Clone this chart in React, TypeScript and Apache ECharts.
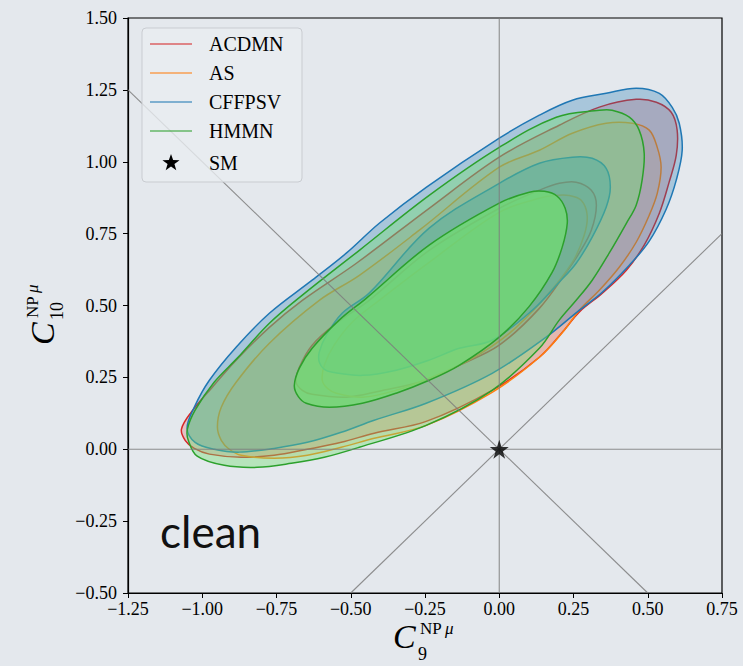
import { useEffect, useRef } from "react";
import * as echarts from "echarts";

type Pt = [number, number];

// Axis ranges / ticks
const xMin = -1.25;
const xMax = 0.75;
const yMin = -0.5;
const yMax = 1.5;
const tickStep = 0.25;

// Models (legend order)
const modelNames = ["ACDMN", "AS", "CFFPSV", "HMMN"];
const lineColors = ["#d62728", "#ff7f0e", "#1f77b4", "#2ca02c"];
const fillOuter = ["rgba(214,39,40,0.2)", "rgba(255,127,14,0.12)", "rgba(31,119,180,0.3)", "rgba(112,222,112,0.4)"];
const fillInner = ["rgba(214,39,40,0.1)", "rgba(255,127,14,0.08)", "rgba(40,140,200,0.4)", "rgba(112,222,112,0.72)"];

// Contours (C9, C10)
const acdmnOuter: Pt[] = [
  [-1.07, 0.07], [-1.057, 0.03], [-1.027, 0.003], [-0.976, -0.017], [-0.869, -0.028], [-0.758, -0.021],
  [-0.646, 0.0], [-0.532, 0.024], [-0.421, 0.056], [-0.246, 0.097], [-0.024, 0.205], [0.135, 0.32],
  [0.219, 0.415], [0.269, 0.477], [0.347, 0.543], [0.428, 0.623], [0.488, 0.71], [0.539, 0.821],
  [0.572, 0.929], [0.596, 1.023], [0.599, 1.11], [0.579, 1.172], [0.529, 1.207], [0.461, 1.217],
  [0.337, 1.19], [0.202, 1.127], [0.0, 1.016], [-0.236, 0.838], [-0.481, 0.647], [-0.663, 0.518],
  [-0.774, 0.424], [-0.886, 0.31], [-0.966, 0.216], [-1.037, 0.129],
];
const acdmnInner: Pt[] = [
  [-0.684, 0.233], [-0.663, 0.205], [-0.63, 0.191], [-0.515, 0.181], [-0.404, 0.202], [-0.246, 0.24],
  [-0.135, 0.292], [0.0, 0.362], [0.135, 0.49], [0.226, 0.616], [0.269, 0.682], [0.31, 0.762],
  [0.327, 0.849], [0.31, 0.901], [0.259, 0.929], [0.202, 0.925], [0.135, 0.901], [0.0, 0.838],
  [-0.236, 0.692], [-0.438, 0.518], [-0.549, 0.438], [-0.63, 0.362], [-0.673, 0.285],
];
const asOuter: Pt[] = [
  [-0.949, 0.077], [-0.936, 0.031], [-0.909, 0.0], [-0.869, -0.021], [-0.758, -0.031], [-0.646, -0.021],
  [-0.532, 0.007], [-0.421, 0.038], [-0.246, 0.083], [-0.024, 0.198], [0.135, 0.32], [0.219, 0.414],
  [0.269, 0.483], [0.337, 0.553], [0.404, 0.633], [0.461, 0.72], [0.505, 0.814], [0.532, 0.89],
  [0.545, 0.981], [0.532, 1.05], [0.505, 1.11], [0.448, 1.134], [0.36, 1.134], [0.246, 1.099],
  [0.135, 1.04], [0.0, 0.981], [-0.269, 0.762], [-0.471, 0.605], [-0.606, 0.518], [-0.774, 0.369],
  [-0.886, 0.233], [-0.936, 0.146],
];
const asInner: Pt[] = [
  [-0.596, 0.24], [-0.579, 0.212], [-0.549, 0.195], [-0.461, 0.181], [-0.347, 0.205], [-0.236, 0.247],
  [-0.101, 0.31], [0.034, 0.403], [0.152, 0.525], [0.246, 0.65], [0.286, 0.744], [0.296, 0.814],
  [0.276, 0.866], [0.236, 0.883], [0.185, 0.883], [0.135, 0.873], [0.0, 0.824], [-0.236, 0.65],
  [-0.404, 0.518], [-0.495, 0.442], [-0.556, 0.362], [-0.589, 0.292],
];
const cffpsvOuter: Pt[] = [
  [-1.051, 0.073], [-1.024, 0.024], [-0.96, 0.0], [-0.875, -0.01], [-0.758, 0.003], [-0.646, 0.024],
  [-0.532, 0.059], [-0.421, 0.101], [-0.246, 0.16], [-0.024, 0.264], [0.158, 0.39], [0.269, 0.483],
  [0.347, 0.546], [0.438, 0.64], [0.505, 0.724], [0.562, 0.835], [0.596, 0.936], [0.616, 1.04],
  [0.606, 1.134], [0.582, 1.19], [0.539, 1.238], [0.461, 1.256], [0.36, 1.238], [0.246, 1.214],
  [0.135, 1.162], [0.0, 1.082], [-0.246, 0.911], [-0.404, 0.786], [-0.515, 0.682], [-0.63, 0.588],
  [-0.774, 0.473], [-0.886, 0.355], [-0.976, 0.24], [-1.027, 0.146],
];
const cffpsvInner: Pt[] = [
  [-0.606, 0.303], [-0.589, 0.278], [-0.562, 0.268], [-0.461, 0.257], [-0.347, 0.275], [-0.236, 0.31],
  [-0.135, 0.351], [-0.024, 0.379], [0.111, 0.483], [0.202, 0.581], [0.259, 0.647], [0.313, 0.738],
  [0.36, 0.842], [0.374, 0.911], [0.36, 0.977], [0.313, 1.012], [0.246, 1.016], [0.135, 0.995],
  [0.0, 0.925], [-0.236, 0.769], [-0.438, 0.543], [-0.529, 0.473], [-0.582, 0.397], [-0.606, 0.338],
];
const hmmnOuter: Pt[] = [
  [-1.05, 0.07], [-1.047, 0.031], [-1.017, -0.024], [-0.926, -0.056], [-0.815, -0.063], [-0.7, -0.049],
  [-0.589, -0.028], [-0.471, 0.007], [-0.246, 0.083], [-0.024, 0.205], [0.135, 0.351], [0.202, 0.449],
  [0.259, 0.518], [0.313, 0.588], [0.37, 0.682], [0.428, 0.786], [0.461, 0.849], [0.481, 0.936],
  [0.488, 1.03], [0.471, 1.11], [0.438, 1.155], [0.38, 1.179], [0.337, 1.179], [0.192, 1.155],
  [0.0, 1.05], [-0.236, 0.883], [-0.471, 0.692], [-0.663, 0.536], [-0.774, 0.438], [-0.882, 0.317],
  [-0.96, 0.233], [-1.024, 0.136],
];
const hmmnInner: Pt[] = [
  [-0.69, 0.222], [-0.677, 0.184], [-0.65, 0.16], [-0.572, 0.146], [-0.461, 0.16], [-0.347, 0.195],
  [-0.236, 0.24], [-0.135, 0.292], [0.0, 0.39], [0.101, 0.497], [0.178, 0.615], [0.212, 0.703],
  [0.229, 0.786], [0.222, 0.838], [0.195, 0.88], [0.152, 0.897], [0.101, 0.894], [0.0, 0.856],
  [-0.236, 0.71], [-0.448, 0.525], [-0.539, 0.449], [-0.63, 0.351], [-0.673, 0.282],
];
const modelContours: Pt[][][] = [
  [acdmnOuter, acdmnInner],
  [asOuter, asInner],
  [cffpsvOuter, cffpsvInner],
  [hmmnOuter, hmmnInner],
];

// SM point and reference lines
const smPoint: Pt = [0, 0];
const refLines: Pt[][] = [
  [[-1.25, 1.25], [0.5, -0.5]],
  [[-0.5, -0.5], [0.75, 0.75]],
  [[0, -0.5], [0, 1.5]],
  [[-1.25, 0], [0.75, 0]],
];

const SERIF = '"Liberation Serif", "Times New Roman", serif';
const BG = "#e4e8ed";
const STAR_PATH =
  "path://M50,0 L61.8,35.4 L100,35.4 L69.1,57.3 L80.9,92.7 L50,70.8 L19.1,92.7 L30.9,57.3 L0,35.4 L38.2,35.4 Z";

const fmt = (v: number) => (v < 0 ? "\u2212" : "") + Math.abs(v).toFixed(2);

function starPoints(cx: number, cy: number, R: number, r: number): number[][] {
  const pts: number[][] = [];
  for (let i = 0; i < 10; i++) {
    const a = -Math.PI / 2 + (i * Math.PI) / 5;
    const rad = i % 2 === 0 ? R : r;
    pts.push([cx + rad * Math.cos(a), cy + rad * Math.sin(a)]);
  }
  return pts;
}

export default function App() {
  const ref = useRef<HTMLDivElement>(null);

  useEffect(() => {
    if (!ref.current) return;
    const chart = echarts.init(ref.current, undefined, { renderer: "svg" });

    const contourSeries = modelNames.map((name, m) => ({
      type: "custom",
      name,
      coordinateSystem: "cartesian2d",
      dimensions: ["x", "y", "k"],
      encode: { x: 0, y: 1 },
      data: modelContours[m].map((c, k) => [c[0][0], c[0][1], k]),
      z: 2,
      silent: true,
      renderItem: (_params: any, api: any) => {
        const k = api.value(2);
        const pts = modelContours[m][k].map((p) => api.coord(p));
        return {
          type: "polygon",
          shape: { points: pts, smooth: 0.35 },
          style: {
            fill: k === 0 ? fillOuter[m] : fillInner[m],
            stroke: lineColors[m],
            lineWidth: 1.5,
          },
        };
      },
    }));

    const refSeries = refLines.map((seg) => ({
      type: "line",
      data: seg,
      symbol: "none",
      silent: true,
      z: 3,
      lineStyle: { color: "rgba(125,125,125,0.85)", width: 1.1 },
    }));

    const legendRows = [44, 73, 102, 131];
    const legendGraphics: any[] = [
      {
        type: "rect",
        shape: { x: 142, y: 28, width: 160, height: 154, r: 4 },
        style: { fill: "rgba(232,236,240,0.8)", stroke: "#c9ccd1", lineWidth: 1 },
        z: 10,
      },
    ];
    modelNames.forEach((name, i) => {
      legendGraphics.push({
        type: "line",
        shape: { x1: 150, y1: legendRows[i], x2: 192, y2: legendRows[i] },
        style: { stroke: lineColors[i], lineWidth: 1.4, opacity: 0.7 },
        z: 11,
      });
      legendGraphics.push({
        type: "text",
        x: 209,
        y: legendRows[i],
        style: { text: name, font: `20px ${SERIF}`, fill: "#000", verticalAlign: "middle", align: "left" },
        z: 11,
      });
    });
    legendGraphics.push({
      type: "polygon",
      shape: { points: starPoints(171, 163, 9, 3.6) },
      style: { fill: "#000" },
      z: 11,
    });
    legendGraphics.push({
      type: "text",
      x: 209,
      y: 163,
      style: { text: "SM", font: `20px ${SERIF}`, fill: "#000", verticalAlign: "middle", align: "left" },
      z: 11,
    });

    const axisNameGraphics: any[] = [
      {
        type: "group",
        x: 393,
        y: 636,
        children: [
          { type: "text", x: 0, y: 0, style: { text: "C", font: `italic 34px ${SERIF}`, fill: "#000", verticalAlign: "middle" } },
          { type: "text", x: 27, y: -8, style: { text: "NP", font: `17px ${SERIF}`, fill: "#000", verticalAlign: "middle" } },
          { type: "text", x: 52, y: -8, style: { text: "\u03bc", font: `italic 17px ${SERIF}`, fill: "#000", verticalAlign: "middle" } },
          { type: "text", x: 25, y: 18, style: { text: "9", font: `18px ${SERIF}`, fill: "#000", verticalAlign: "middle" } },
        ],
      },
      {
        type: "group",
        x: 42,
        y: 345,
        rotation: Math.PI / 2,
        children: [
          { type: "text", x: 0, y: 0, style: { text: "C", font: `italic 34px ${SERIF}`, fill: "#000", verticalAlign: "middle" } },
          { type: "text", x: 27, y: -10, style: { text: "NP", font: `17px ${SERIF}`, fill: "#000", verticalAlign: "middle" } },
          { type: "text", x: 52, y: -10, style: { text: "\u03bc", font: `italic 17px ${SERIF}`, fill: "#000", verticalAlign: "middle" } },
          { type: "text", x: 25, y: 15, style: { text: "10", font: `18px ${SERIF}`, fill: "#000", verticalAlign: "middle" } },
        ],
      },
      {
        type: "text",
        x: 160,
        y: 531,
        style: { text: "clean", font: `44px Lato, "Open Sans", sans-serif`, fill: "#111", verticalAlign: "middle" },
        z: 12,
      },
    ];

    chart.setOption({
      animation: false,
      backgroundColor: BG,
      grid: {
        left: 128,
        right: 21,
        top: 18,
        bottom: 73,
        show: true,
        borderColor: "#000",
        borderWidth: 1.2,
        backgroundColor: "transparent",
      },
      xAxis: {
        type: "value",
        min: xMin,
        max: xMax,
        interval: tickStep,
        axisLine: { show: true, onZero: false, lineStyle: { color: "#000", width: 1.2 } },
        axisTick: { show: true, length: 5, lineStyle: { color: "#000", width: 1 } },
        axisLabel: { formatter: fmt, fontFamily: SERIF, fontSize: 18, lineHeight: 18, color: "#000", margin: 7 },
        splitLine: { show: false },
      },
      yAxis: {
        type: "value",
        min: yMin,
        max: yMax,
        interval: tickStep,
        axisLine: { show: true, onZero: false, lineStyle: { color: "#000", width: 1.2 } },
        axisTick: { show: true, length: 5, lineStyle: { color: "#000", width: 1 } },
        axisLabel: { formatter: fmt, fontFamily: SERIF, fontSize: 18, color: "#000", margin: 11 },
        splitLine: { show: false },
      },
      series: [
        ...contourSeries,
        ...refSeries,
        {
          type: "scatter",
          name: "SM",
          data: [smPoint],
          symbol: STAR_PATH,
          symbolSize: 19,
          itemStyle: { color: "#000" },
          z: 5,
          silent: true,
        },
      ],
      graphic: [...legendGraphics, ...axisNameGraphics],
    });

    return () => chart.dispose();
  }, []);

  return (
    <div
      ref={ref}
      style={{ position: "fixed", left: 0, top: 0, width: 743, height: 666, background: BG }}
    />
  );
}
